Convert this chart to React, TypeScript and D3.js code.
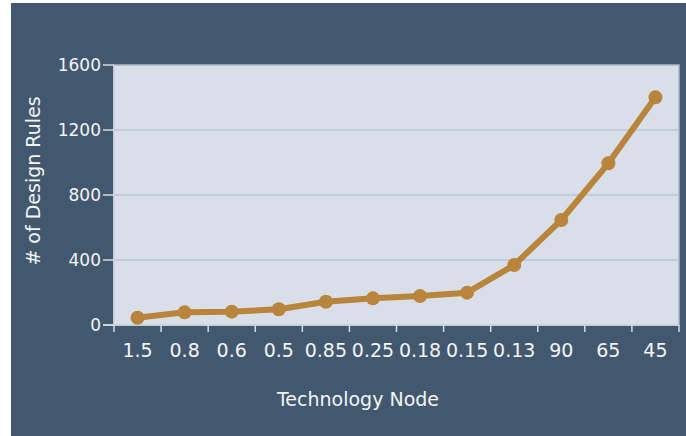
import React from "react";
import * as d3 from "d3";

const nodes = ["1.5", "0.8", "0.6", "0.5", "0.85", "0.25", "0.18", "0.15", "0.13", "90", "65", "45"];
const designRules = [45, 78, 82, 97, 143, 164, 178, 199, 369, 646, 995, 1401];
const yTicks = [0, 400, 800, 1200, 1600];

const W = 686;
const H = 436;
const plot = { left: 114, right: 679, top: 65, bottom: 325 };

export default function App() {
  const x = d3.scaleBand<string>().domain(nodes).range([plot.left, plot.right]);
  const y = d3.scaleLinear().domain([0, 1600]).range([plot.bottom, plot.top]);
  const cx = (n: string) => (x(n) as number) + x.bandwidth() / 2;

  const line = d3
    .line<number>()
    .x((_, i) => cx(nodes[i]))
    .y((d) => y(d));

  const font = "'DejaVu Sans', sans-serif";
  const textCol = "#f2f4f7";

  return (
    <svg width={W} height={H} style={{ position: "absolute", left: 0, top: 0, display: "block" }}>
      <rect x={0} y={0} width={W} height={H} fill="#ffffff" />
      <rect x={11} y={3} width={W - 11} height={H - 3} fill="#42586e" />
      <rect
        x={plot.left}
        y={plot.top}
        width={plot.right - plot.left}
        height={plot.bottom - plot.top}
        fill="#d9dfe9"
        stroke="#aab7c8"
        strokeWidth={1.5}
      />
      {/* grid */}
      {yTicks.slice(1, -1).map((t) => (
        <line key={t} x1={plot.left} x2={plot.right} y1={y(t)} y2={y(t)} stroke="#b9c5d5" strokeWidth={1.5} />
      ))}
      {/* axes */}
      <line x1={plot.left} x2={plot.left} y1={plot.top} y2={plot.bottom + 7} stroke="#d4dbe5" strokeWidth={1.5} />
      <line x1={plot.left - 11} x2={plot.right} y1={plot.bottom} y2={plot.bottom} stroke="#d4dbe5" strokeWidth={1.5} />
      {yTicks.map((t) => (
        <g key={t}>
          <line x1={plot.left - 11} x2={plot.left} y1={y(t)} y2={y(t)} stroke="#d4dbe5" strokeWidth={1.5} />
          <text x={plot.left - 13} y={y(t)} dy="0.35em" textAnchor="end" fill={textCol} fontFamily={font} fontSize={17}>
            {t}
          </text>
        </g>
      ))}
      {nodes.map((n, i) => (
        <line
          key={"t" + i}
          x1={(x(n) as number) + x.bandwidth()}
          x2={(x(n) as number) + x.bandwidth()}
          y1={plot.bottom}
          y2={plot.bottom + 7}
          stroke="#d4dbe5"
          strokeWidth={1.5}
        />
      ))}
      {nodes.map((n) => (
        <text key={n} x={cx(n)} y={357} textAnchor="middle" fill={textCol} fontFamily={font} fontSize={19}>
          {n}
        </text>
      ))}
      <text x={358} y={406} textAnchor="middle" fill={textCol} fontFamily={font} fontSize={19}>
        Technology Node
      </text>
      <text
        transform={`translate(40,181) rotate(-90)`}
        textAnchor="middle"
        fill={textCol}
        fontFamily={font}
        fontSize={19}
      >
        # of Design Rules
      </text>
      {/* series */}
      <path d={line(designRules) || ""} fill="none" stroke="#b9843b" strokeWidth={6} strokeLinejoin="round" />
      {designRules.map((v, i) => (
        <circle key={i} cx={cx(nodes[i])} cy={y(v)} r={7} fill="#b9843b" />
      ))}
    </svg>
  );
}
